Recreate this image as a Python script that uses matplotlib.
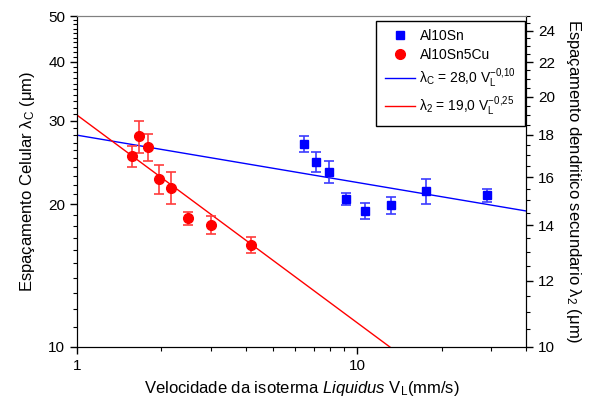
import numpy as np
import matplotlib.pyplot as plt
from matplotlib.ticker import FixedLocator, MultipleLocator, NullFormatter, LogLocator

plt.rcParams['font.family'] = 'Liberation Sans'
plt.rcParams['mathtext.fontset'] = 'custom'
plt.rcParams['mathtext.rm'] = 'Liberation Sans'
plt.rcParams['mathtext.it'] = 'Liberation Sans:italic'

# Al10Sn - cellular spacing (left axis)
v_sn = [6.45, 7.11, 7.96, 9.10, 10.68, 13.18, 17.63, 29.0]
lc_sn = [26.8, 24.55, 23.45, 20.5, 19.4, 19.9, 21.3, 20.9]
lc_err = [1.05, 1.2, 1.3, 0.6, 0.75, 0.78, 1.3, 0.67]

# Al10Sn5Cu - secondary dendritic spacing (right axis)
v_cu = [1.567, 1.669, 1.798, 1.956, 2.166, 2.483, 3.017, 4.182]
l2_cu = [16.94, 17.91, 17.37, 15.92, 15.53, 14.28, 14.02, 13.26]
l2_err = [0.5, 0.8, 0.65, 0.64, 0.7, 0.25, 0.35, 0.3]

# fitted power laws
a_c, b_c = 28.0, -0.10
a_2, b_2 = 19.0, -0.25

fig = plt.figure(figsize=(5.9, 4.01), dpi=100)
ax = fig.add_axes([0.1305, 0.1354, 0.761, 0.8246])
ax2 = ax.twinx()

vfit = np.logspace(0, np.log10(40), 200)

# blue - left
ax.errorbar(v_sn, lc_sn, yerr=lc_err, fmt='s', color='#0000ff', ms=6,
            capsize=3.5, elinewidth=1.2, capthick=1.2, ecolor='#3c3cff', zorder=3)
ln_c, = ax.plot(vfit, a_c * vfit**b_c, color='#0000ff', lw=1)

# red - right
ax2.errorbar(v_cu, l2_cu, yerr=l2_err, fmt='o', color='#ff0000', ms=7,
             capsize=3.5, elinewidth=1.2, capthick=1.2, ecolor='#ff3c3c', zorder=3)
ln_2, = ax2.plot(vfit, a_2 * vfit**b_2, color='#ff0000', lw=1)

ax.set_xscale('log')
ax.set_yscale('log')
ax2.set_yscale('log')
ax.set_xlim(1, 40)
ax.set_ylim(10, 50)
ax2.set_ylim(10, 25)

# left ticks
ax.yaxis.set_major_locator(FixedLocator([10, 20, 30, 40, 50]))
ax.yaxis.set_minor_locator(FixedLocator([v for v in range(11, 50) if v % 10 != 0]))
ax.set_yticklabels(['10', '20', '30', '40', '50'])
ax.yaxis.set_minor_formatter(NullFormatter())

# right ticks
ax2.yaxis.set_major_locator(FixedLocator([10, 12, 14, 16, 18, 20, 22, 24]))
ax2.set_yticklabels(['10', '12', '14', '16', '18', '20', '22', '24'])
ax2.yaxis.set_minor_locator(MultipleLocator(0.5))
ax2.yaxis.set_minor_formatter(NullFormatter())

# x ticks
ax.xaxis.set_major_locator(FixedLocator([1, 10]))
ax.set_xticklabels(['1', '10'])
ax.xaxis.set_minor_locator(LogLocator(subs=np.arange(2, 10)))
ax.xaxis.set_minor_formatter(NullFormatter())

for a in (ax, ax2):
    a.tick_params(which='major', direction='out', length=5, width=1, labelsize=11)
    a.tick_params(which='minor', direction='out', length=3, width=0.8)
ax.tick_params(axis='x', top=False)
ax.spines['top'].set_color('#808080')
ax2.spines['top'].set_color('#808080')

ax.set_xlabel(r'Velocidade da isoterma $\it{Liquidus}$ V$_{\rm L}$(mm/s)', fontsize=12, labelpad=5)
ax.set_ylabel(r'Espaçamento Celular λ$_{\rm C}$ (μm)', fontsize=12, labelpad=8)
ax2.set_ylabel(r'Espaçamento dendritico secundario λ$_{\rm 2}$ (μm)', fontsize=12,
               rotation=270, labelpad=20)

h_sq = plt.Line2D([], [], ls='none', marker='s', color='#0000ff', ms=6)
h_ci = plt.Line2D([], [], ls='none', marker='o', color='#ff0000', ms=7)
leg = ax2.legend([h_sq, h_ci, ln_c, ln_2],
                 ['Al10Sn', 'Al10Sn5Cu',
                  r'λ$_{\rm C}$ = 28,0 V$_{\rm L}^{-0{,}10}$',
                  r'λ$_{\rm 2}$ = 19,0 V$_{\rm L}^{-0{,}25}$'],
                 loc='upper right', bbox_to_anchor=(1.0, 0.99), borderaxespad=0.1,
                 fontsize=10, fancybox=False, edgecolor='black', framealpha=1,
                 handlelength=2.2, borderpad=0.6, labelspacing=0.35, handletextpad=0.3)
leg.get_frame().set_linewidth(1)

fig.savefig('out.png', dpi=100)
